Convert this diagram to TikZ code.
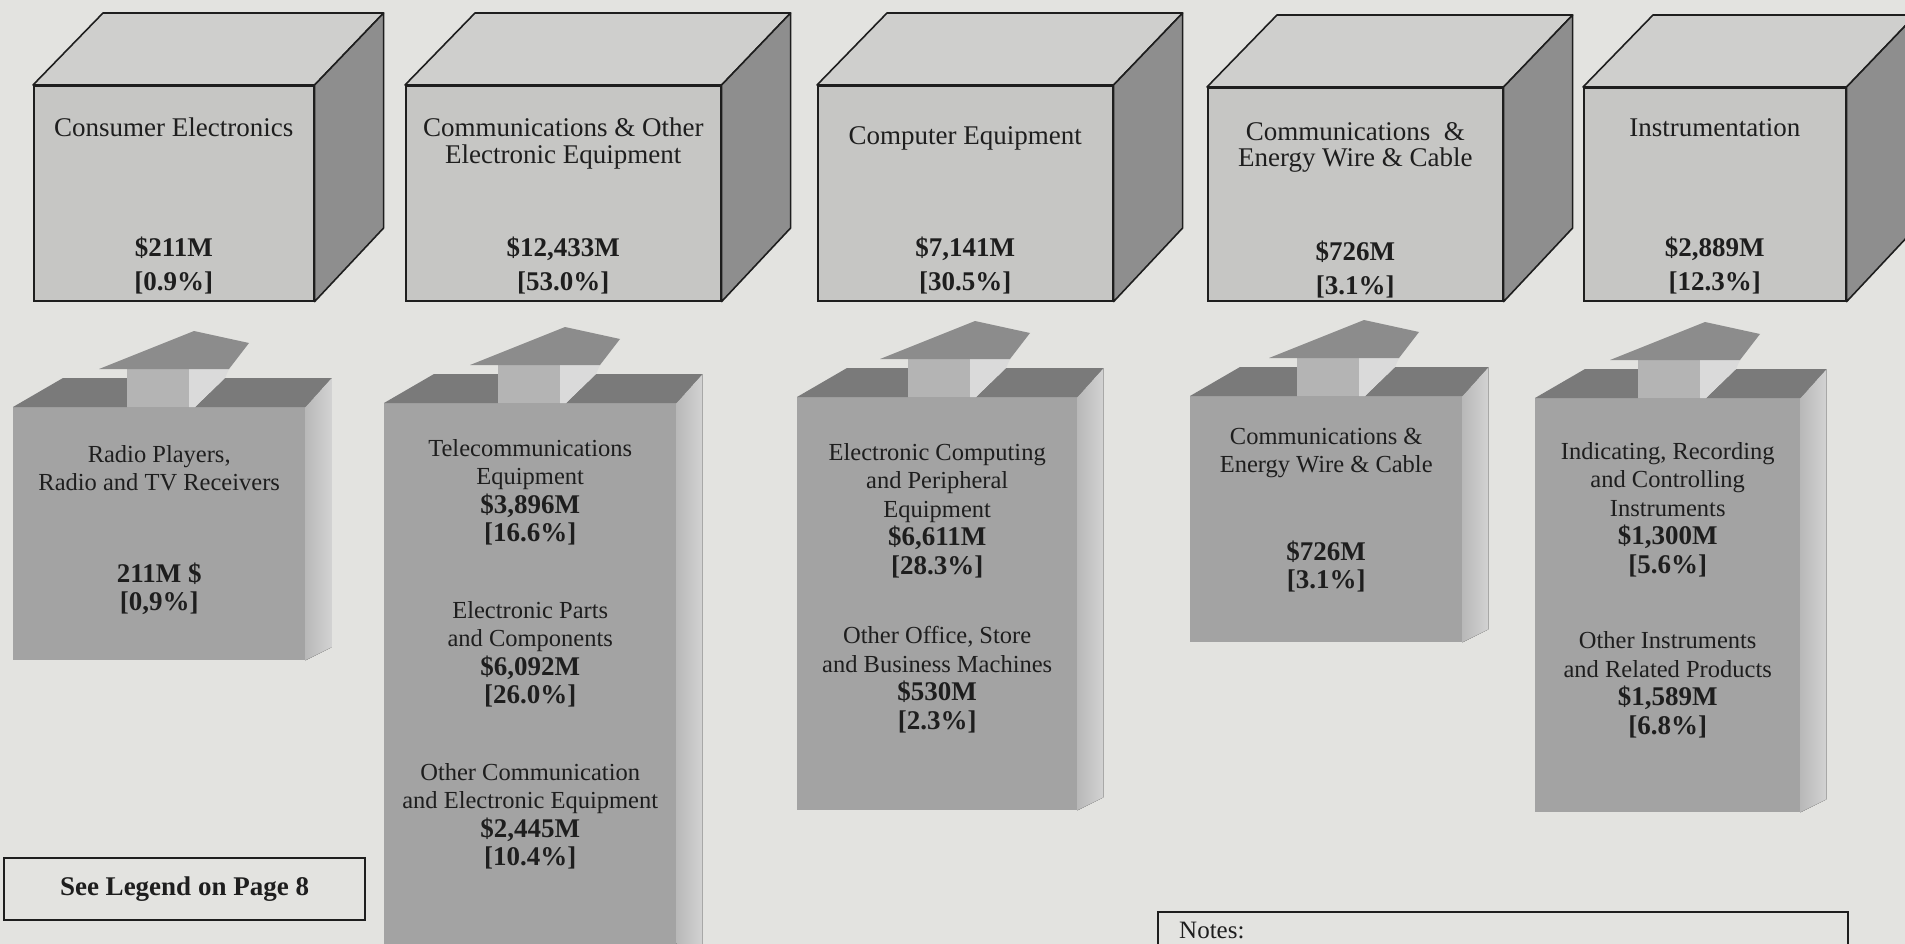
\documentclass[tikz,border=0pt]{standalone}
\usepackage{fontspec}
\setmainfont{Liberation Serif}
\usetikzlibrary{positioning, calc}

\definecolor{paper}{HTML}{E3E3E0}
\definecolor{cubefront}{HTML}{C6C6C4}
\definecolor{cubetop}{HTML}{CFCFCD}
\definecolor{cubeside}{HTML}{8E8E8E}
\definecolor{boxfront}{HTML}{A3A3A3}
\definecolor{boxtop}{HTML}{7A7A7A}
\definecolor{boxsideA}{HTML}{B8B8B8}
\definecolor{boxsideB}{HTML}{D2D2D2}
\definecolor{shaftfront}{HTML}{B4B4B4}
\definecolor{shaftside}{HTML}{DADADA}
\definecolor{headgray}{HTML}{8C8C8C}
\definecolor{ink}{HTML}{1E1E1E}

\newcommand{\amt}[1]{{\fontsize{27}{28.5}\selectfont\bfseries #1}}

\begin{document}
\begin{tikzpicture}[
        x=1pt, y=-1pt,
        every node/.style={text=ink},
        cube/.style={draw=ink, line width=1.6pt, fill=cubefront, inner sep=0pt, anchor=north west},
        cubeface/.style={draw=ink, line width=1.6pt, line join=round},
        cubelabel/.style={align=center, inner sep=0pt, font=\fontsize{27}{26.5}\selectfont},
        cubevalue/.style={align=center, inner sep=0pt, font=\fontsize{27}{34}\selectfont\bfseries},
        lowbox/.style={fill=boxfront, inner sep=0pt, anchor=north west},
        sideshade/.style={left color=boxsideA, right color=boxsideB},
        lowtext/.style={align=center, inner sep=0pt, font=\fontsize{24.5}{28.5}\selectfont},
        infobox/.style={draw=ink, line width=2pt, fill=paper, inner sep=0pt}
    ]

    \clip (0,0) rectangle (1905,944);
    \fill[paper] (0,0) rectangle (1905,944);

    % top row: industry groups
    \node[cube, minimum width=280pt, minimum height=215pt] (ce) at (33,85) {};
    \filldraw[cubeface, fill=cubetop] (ce.north west) -- ++(70,-72) -- ($(ce.north east)+(69,-72)$) -- (ce.north east) -- cycle;
    \filldraw[cubeface, fill=cubeside] (ce.north east) -- ++(69,-72) -- ++(0,215) -- (ce.south east) -- cycle;
    \node[cubelabel, below=33pt of ce.north] (ce-name) {Consumer Electronics};
    \node[cubevalue, below=152pt of ce.north] (ce-val) {\$211M\\{[0.9\%]}};

    \node[cube, minimum width=315pt, minimum height=215pt] (coe) at (405,85) {};
    \filldraw[cubeface, fill=cubetop] (coe.north west) -- ++(70,-72) -- ($(coe.north east)+(69,-72)$) -- (coe.north east) -- cycle;
    \filldraw[cubeface, fill=cubeside] (coe.north east) -- ++(69,-72) -- ++(0,215) -- (coe.south east) -- cycle;
    \node[cubelabel, below=33pt of coe.north] (coe-name) {Communications \& Other\\Electronic Equipment};
    \node[cubevalue, below=152pt of coe.north] (coe-val) {\$12,433M\\{[53.0\%]}};

    \node[cube, minimum width=295pt, minimum height=215pt] (cpe) at (817,85) {};
    \filldraw[cubeface, fill=cubetop] (cpe.north west) -- ++(70,-72) -- ($(cpe.north east)+(69,-72)$) -- (cpe.north east) -- cycle;
    \filldraw[cubeface, fill=cubeside] (cpe.north east) -- ++(69,-72) -- ++(0,215) -- (cpe.south east) -- cycle;
    \node[cubelabel, below=41pt of cpe.north] (cpe-name) {Computer Equipment};
    \node[cubevalue, below=152pt of cpe.north] (cpe-val) {\$7,141M\\{[30.5\%]}};

    \node[cube, minimum width=295pt, minimum height=213pt] (cew) at (1207,87) {};
    \filldraw[cubeface, fill=cubetop] (cew.north west) -- ++(70,-72) -- ($(cew.north east)+(69,-72)$) -- (cew.north east) -- cycle;
    \filldraw[cubeface, fill=cubeside] (cew.north east) -- ++(69,-72) -- ++(0,213) -- (cew.south east) -- cycle;
    \node[cubelabel, below=35pt of cew.north] (cew-name) {Communications\ \ \&\\Energy Wire \& Cable};
    \node[cubevalue, below=154pt of cew.north] (cew-val) {\$726M\\{[3.1\%]}};

    \node[cube, minimum width=262pt, minimum height=213pt] (ins) at (1583,87) {};
    \filldraw[cubeface, fill=cubetop] (ins.north west) -- ++(70,-72) -- ($(ins.north east)+(69,-72)$) -- (ins.north east) -- cycle;
    \filldraw[cubeface, fill=cubeside] (ins.north east) -- ++(69,-72) -- ++(0,213) -- (ins.south east) -- cycle;
    \node[cubelabel, below=31pt of ins.north] (ins-name) {Instrumentation};
    \node[cubevalue, below=150pt of ins.north] (ins-val) {\$2,889M\\{[12.3\%]}};

    % bottom row: sub-industries with arrows up
    \node[lowbox, minimum width=292pt, minimum height=253pt] (radio) at (13,407) {};
    \coordinate (radio-s) at ($(radio.north west)+(114,0)$);
    \fill[sideshade] (radio.north east) -- ++(26,-29) -- ($(radio.south east)+(26,-13)$) -- (radio.south east) -- cycle;
    \fill[boxtop] (radio.north west) -- ++(50,-29) -| (radio-s) -- cycle;
    \fill[boxtop] ($(radio-s)+(68,0)$) -- ++(30,-29) -- ($(radio.north east)+(26,-29)$) -- (radio.north east) -- cycle;
    \fill[shaftfront] (radio-s) rectangle ++(62,-38);
    \fill[shaftside] ($(radio-s)+(62,0)$) -- ++(0,-38) -- ++(40,0) -- ++(-4,9) -- ++(-30,29) -- cycle;
    \fill[headgray] ($(radio-s)+(-28,-38)$) -- ++(95,-38) -- ++(55,12) -- ++(-20,26) -- cycle;
    \node[lowtext, below=38pt of radio.north] (radio-txt) {Radio Players,\\Radio and TV Receivers\\[63pt]\amt{211M \$}\\\amt{[0,9\%]}};

    \node[lowbox, minimum width=292pt, minimum height=600pt] (tele) at (384,403) {};
    \coordinate (tele-s) at ($(tele.north west)+(114,0)$);
    \fill[sideshade] (tele.north east) -- ++(26,-29) -- ($(tele.south east)+(26,-13)$) -- (tele.south east) -- cycle;
    \fill[boxtop] (tele.north west) -- ++(50,-29) -| (tele-s) -- cycle;
    \fill[boxtop] ($(tele-s)+(68,0)$) -- ++(30,-29) -- ($(tele.north east)+(26,-29)$) -- (tele.north east) -- cycle;
    \fill[shaftfront] (tele-s) rectangle ++(62,-38);
    \fill[shaftside] ($(tele-s)+(62,0)$) -- ++(0,-38) -- ++(40,0) -- ++(-4,9) -- ++(-30,29) -- cycle;
    \fill[headgray] ($(tele-s)+(-28,-38)$) -- ++(95,-38) -- ++(55,12) -- ++(-20,26) -- cycle;
    \node[lowtext, below=36pt of tele.north] (tele-txt) {Telecommunications\\Equipment\\\amt{\$3,896M}\\\amt{[16.6\%]}\\[48pt]Electronic Parts\\and Components\\\amt{\$6,092M}\\\amt{[26.0\%]}\\[48pt]Other Communication\\and Electronic Equipment\\\amt{\$2,445M}\\\amt{[10.4\%]}};

    \node[lowbox, minimum width=280pt, minimum height=413pt] (comp) at (797,397) {};
    \coordinate (comp-s) at ($(comp.north west)+(111,0)$);
    \fill[sideshade] (comp.north east) -- ++(26,-29) -- ($(comp.south east)+(26,-13)$) -- (comp.south east) -- cycle;
    \fill[boxtop] (comp.north west) -- ++(50,-29) -| (comp-s) -- cycle;
    \fill[boxtop] ($(comp-s)+(68,0)$) -- ++(30,-29) -- ($(comp.north east)+(26,-29)$) -- (comp.north east) -- cycle;
    \fill[shaftfront] (comp-s) rectangle ++(62,-38);
    \fill[shaftside] ($(comp-s)+(62,0)$) -- ++(0,-38) -- ++(40,0) -- ++(-4,9) -- ++(-30,29) -- cycle;
    \fill[headgray] ($(comp-s)+(-28,-38)$) -- ++(95,-38) -- ++(55,12) -- ++(-20,26) -- cycle;
    \node[lowtext, below=46pt of comp.north] (comp-txt) {Electronic Computing\\and Peripheral\\Equipment\\\amt{\$6,611M}\\\amt{[28.3\%]}\\[41pt]Other Office, Store\\and Business Machines\\\amt{\$530M}\\\amt{[2.3\%]}};

    \node[lowbox, minimum width=272pt, minimum height=246pt] (wire) at (1190,396) {};
    \coordinate (wire-s) at ($(wire.north west)+(107,0)$);
    \fill[sideshade] (wire.north east) -- ++(26,-29) -- ($(wire.south east)+(26,-13)$) -- (wire.south east) -- cycle;
    \fill[boxtop] (wire.north west) -- ++(50,-29) -| (wire-s) -- cycle;
    \fill[boxtop] ($(wire-s)+(68,0)$) -- ++(30,-29) -- ($(wire.north east)+(26,-29)$) -- (wire.north east) -- cycle;
    \fill[shaftfront] (wire-s) rectangle ++(62,-38);
    \fill[shaftside] ($(wire-s)+(62,0)$) -- ++(0,-38) -- ++(40,0) -- ++(-4,9) -- ++(-30,29) -- cycle;
    \fill[headgray] ($(wire-s)+(-28,-38)$) -- ++(95,-38) -- ++(55,12) -- ++(-20,26) -- cycle;
    \node[lowtext, below=32pt of wire.north] (wire-txt) {Communications \&\\Energy Wire \& Cable\\[59pt]\amt{\$726M}\\\amt{[3.1\%]}};

    \node[lowbox, minimum width=265pt, minimum height=414pt] (indi) at (1535,398) {};
    \coordinate (indi-s) at ($(indi.north west)+(103,0)$);
    \fill[sideshade] (indi.north east) -- ++(26,-29) -- ($(indi.south east)+(26,-13)$) -- (indi.south east) -- cycle;
    \fill[boxtop] (indi.north west) -- ++(50,-29) -| (indi-s) -- cycle;
    \fill[boxtop] ($(indi-s)+(68,0)$) -- ++(30,-29) -- ($(indi.north east)+(26,-29)$) -- (indi.north east) -- cycle;
    \fill[shaftfront] (indi-s) rectangle ++(62,-38);
    \fill[shaftside] ($(indi-s)+(62,0)$) -- ++(0,-38) -- ++(40,0) -- ++(-4,9) -- ++(-30,29) -- cycle;
    \fill[headgray] ($(indi-s)+(-28,-38)$) -- ++(95,-38) -- ++(55,12) -- ++(-20,26) -- cycle;
    \node[lowtext, below=44pt of indi.north] (indi-txt) {Indicating, Recording\\and Controlling\\Instruments\\\amt{\$1,300M}\\\amt{[5.6\%]}\\[47pt]Other Instruments\\and Related Products\\\amt{\$1,589M}\\\amt{[6.8\%]}};

    % legend and notes
    \node[infobox, minimum width=361pt, minimum height=62pt, font=\fontsize{27}{30}\selectfont\bfseries] (legend) at (184.5,889) {See Legend on Page 8};
    \node[infobox, anchor=north west, minimum width=690pt, minimum height=80pt] (notes) at (1157,911) {};
    \node[inner sep=0pt, anchor=north west, font=\fontsize{25}{28}\selectfont, below right=11pt and 22pt of notes.north west] (notes-title) {Notes:};

\end{tikzpicture}
\end{document}
